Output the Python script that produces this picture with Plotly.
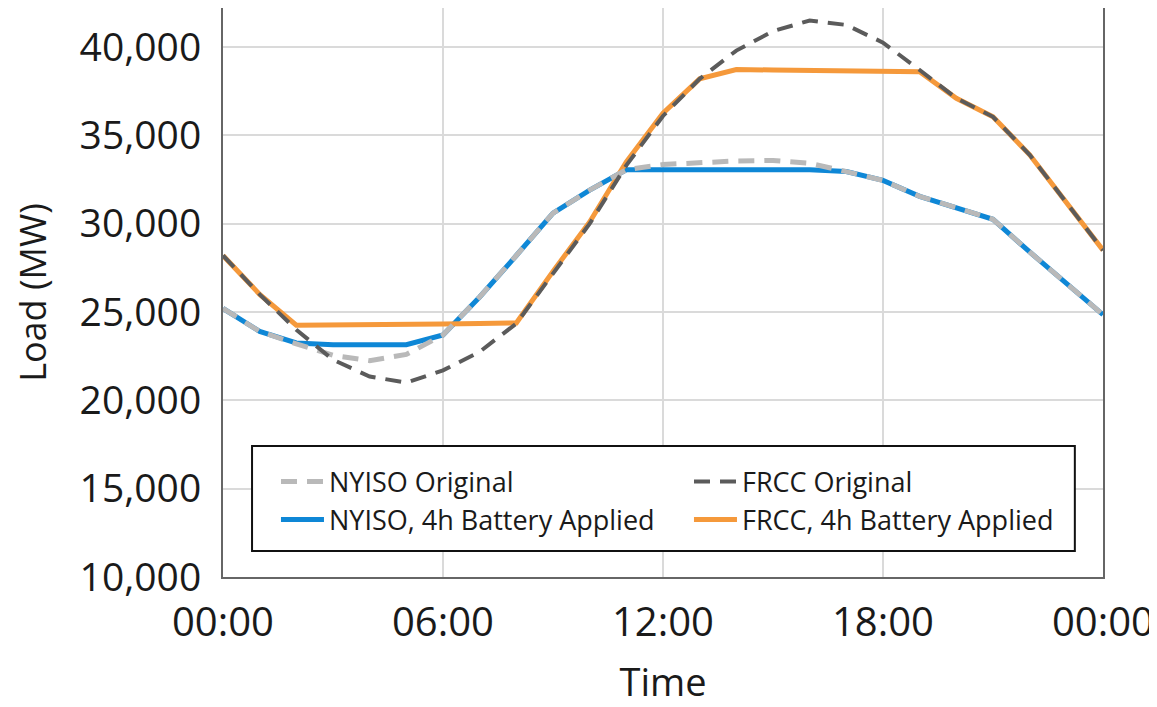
import plotly.graph_objects as go

hours = list(range(25))
tick_vals = [0, 6, 12, 18, 24]
tick_text = ["00:00", "06:00", "12:00", "18:00", "00:00"]
y_ticks = [10000, 15000, 20000, 25000, 30000, 35000, 40000]

nyiso_original = [25200, 23900, 23200, 22550, 22250, 22600, 23700, 25850, 28200, 30600, 31900,
                  33050, 33350, 33480, 33550, 33580, 33420, 32950, 32450, 31550, 30900, 30250,
                  28400, 26600, 24850]
nyiso_battery = [25200, 23900, 23250, 23150, 23150, 23150, 23700, 25850, 28200, 30600, 31900,
                 33050, 33050, 33050, 33050, 33050, 33050, 32950, 32450, 31550, 30900, 30250,
                 28400, 26600, 24850]
frcc_original = [28200, 26000, 24000, 22300, 21350, 21000, 21700, 22750, 24350, 27200, 30000,
                 33300, 36100, 38200, 39800, 40900, 41500, 41250, 40250, 38700, 37100, 36050,
                 33900, 31200, 28500]
frcc_battery = [28200, 26000, 24250, 24250, 24280, 24300, 24320, 24350, 24380, 27300, 30100,
                33500, 36250, 38200, 38730, 38700, 38670, 38650, 38620, 38600, 37100, 36050,
                33900, 31200, 28500]

FONT = "Open Sans"
TXT = "#1a1a1a"

fig = go.Figure()
fig.add_trace(go.Scatter(x=hours, y=nyiso_battery, mode="lines", name="NYISO, 4h Battery Applied",
                         line=dict(color="#0E87D6", width=5), legendrank=3))
fig.add_trace(go.Scatter(x=hours, y=frcc_battery, mode="lines", name="FRCC, 4h Battery Applied",
                         line=dict(color="#F5993B", width=5), legendrank=4))
fig.add_trace(go.Scatter(x=hours, y=nyiso_original, mode="lines", name="NYISO Original",
                         line=dict(color="#B9B9B9", width=5, dash="16px,10px"), legendrank=1))
fig.add_trace(go.Scatter(x=hours, y=frcc_original, mode="lines", name="FRCC Original",
                         line=dict(color="#5B5B5B", width=4, dash="16px,10px"), legendrank=2))

# legend frame
fig.add_shape(type="rect", xref="paper", yref="paper",
              x0=0.033, x1=0.968, y0=0.0457, y1=0.2302,
              line=dict(color="#111111", width=2), fillcolor="white", layer="above")

fig.update_layout(
    width=1149, height=699,
    margin=dict(l=215, r=54, t=0, b=130),
    paper_bgcolor="white", plot_bgcolor="white",
    font=dict(family=FONT, color=TXT),
    legend=dict(
        orientation="h", x=0.0602, y=0.2103, xanchor="left", yanchor="top",
        entrywidth=355, entrywidthmode="pixels",
        bgcolor="rgba(0,0,0,0)", borderwidth=0,
        font=dict(family=FONT, size=27, color=TXT),
        traceorder="normal", itemwidth=43,
    ),
    showlegend=True,
)
fig.update_xaxes(
    range=[0, 24], tickvals=tick_vals, ticktext=tick_text,
    showgrid=True, gridcolor="#DADADA", gridwidth=2,
    showline=True, linecolor="#666666", linewidth=2, mirror=True,
    ticks="", ticklabelstandoff=9, automargin=False,
    tickfont=dict(family=FONT, size=40, color=TXT),
    title=dict(text="Time", font=dict(family=FONT, size=38, color=TXT), standoff=29),
    zeroline=False,
)
fig.update_yaxes(
    range=[10000, 42210], tickvals=y_ticks, tickformat=",",
    showgrid=True, gridcolor="#DADADA", gridwidth=2,
    showline=True, linecolor="#666666", linewidth=2, mirror=True,
    ticks="", ticklabelstandoff=12, automargin=False,
    tickfont=dict(family=FONT, size=39, color=TXT),
    title=dict(text="Load (MW)", font=dict(family=FONT, size=36, color=TXT), standoff=28),
    zeroline=False,
)

fig.write_html("out.html")
